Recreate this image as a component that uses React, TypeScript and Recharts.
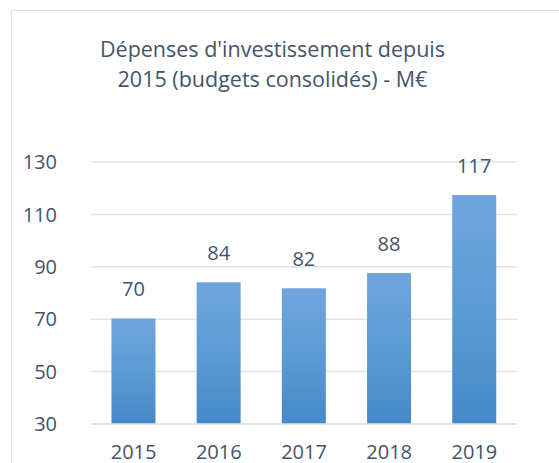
import React from 'react';
import { BarChart, Bar, XAxis, YAxis, CartesianGrid, LabelList } from 'recharts';

const years = ['2015', '2016', '2017', '2018', '2019'];
const spending = [70.3, 84.1, 81.8, 87.6, 117.4];
const yTicks = [30, 50, 70, 90, 110, 130];
const titleLines = ["Dépenses d'investissement depuis", '2015 (budgets consolidés) - M€'];

const data = years.map((y, i) => ({ year: y, value: spending[i] }));

const FONT = '"Open Sans", sans-serif';
const TEXT = '#44546a';
const GRID = '#dfe3ea';

export default function App() {
  return (
    <div style={{ position: 'absolute', left: 0, top: 0, width: 559, height: 463, overflow: 'hidden', background: '#fff' }}>
      <div style={{ position: 'absolute', left: 11, top: 10, width: 600, height: 600, border: `1.5px solid ${GRID}`, boxSizing: 'border-box' }} />
      <div style={{ position: 'absolute', left: 0, top: 34, width: 545, textAlign: 'center', fontFamily: FONT, fontSize: 21.5, lineHeight: '30px', color: TEXT }}>
        {titleLines.map((t) => (<div key={t}>{t}</div>))}
      </div>
      <div style={{ position: 'absolute', left: 0, top: 0 }}>
        <BarChart width={559} height={463} data={data} margin={{ top: 162, right: 42, bottom: 0, left: 0 }} barCategoryGap="24%">
          <defs>
            <linearGradient id="barGrad" x1="0" y1="0" x2="0" y2="1">
              <stop offset="0%" stopColor="#70a5db" />
              <stop offset="50%" stopColor="#5b9bd5" />
              <stop offset="100%" stopColor="#4589c9" />
            </linearGradient>
          </defs>
          <CartesianGrid vertical={false} stroke={GRID} strokeWidth={1.5} />
          <XAxis dataKey="year" height={39} axisLine={{ stroke: GRID, strokeWidth: 1.5 }} tickLine={false} tickSize={0} tickMargin={21}
            tick={{ fill: TEXT, fontSize: 20, fontFamily: FONT }} />
          <YAxis width={91} domain={[30, 130]} ticks={yTicks} axisLine={false} tickLine={false} tickSize={0} tickMargin={34}
            tick={{ fill: TEXT, fontSize: 20, fontFamily: FONT }} />
          <Bar dataKey="value" fill="url(#barGrad)" isAnimationActive={false}>
            <LabelList dataKey="value" position="top" offset={22} formatter={(v: any) => Math.round(Number(v))}
              style={{ fill: TEXT, fontSize: 20, fontFamily: FONT }} />
          </Bar>
        </BarChart>
      </div>
    </div>
  );
}
